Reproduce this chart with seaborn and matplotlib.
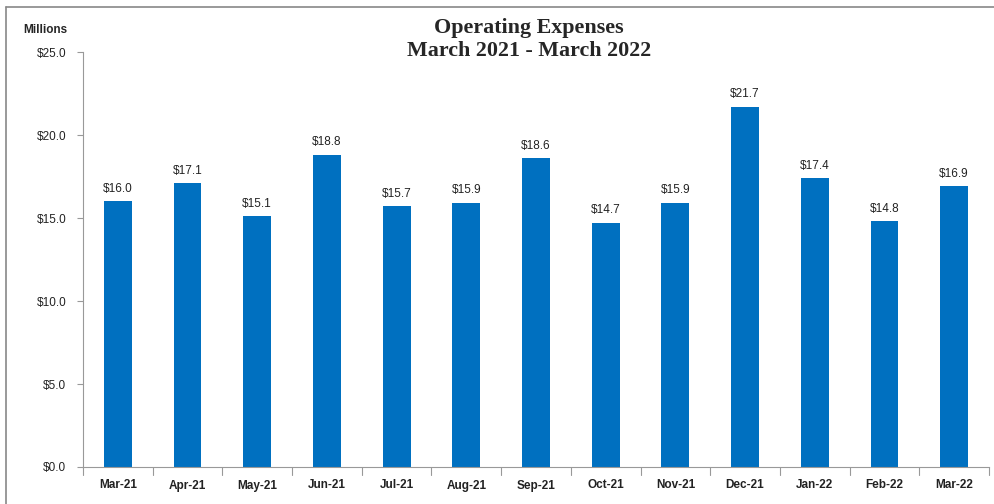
import matplotlib
matplotlib.use("Agg")
import matplotlib.pyplot as plt
import seaborn as sns
from matplotlib.lines import Line2D

months = ["Mar-21", "Apr-21", "May-21", "Jun-21", "Jul-21", "Aug-21", "Sep-21",
          "Oct-21", "Nov-21", "Dec-21", "Jan-22", "Feb-22", "Mar-22"]
expenses = [16.0, 17.1, 15.1, 18.8, 15.7, 15.9, 18.6, 14.7, 15.9, 21.7, 17.4, 14.8, 16.9]
yticks = [0, 5, 10, 15, 20, 25]

sns.set_style("white")
plt.rcParams['font.family'] = ['Liberation Sans', 'DejaVu Sans']

W, H = 995, 504
fig = plt.figure(figsize=(W/100, H/100), dpi=100)
ax = fig.add_axes([83/W, 1-467/H, (989-83)/W, (467-52)/H])

sns.barplot(x=months, y=expenses, color="#0070C0", saturation=1, width=0.4,
            linewidth=0, ax=ax)

ax.set_ylim(0, 25)
ax.set_xlim(-0.5, len(months)-0.5)
ax.set_yticks(yticks)
ax.set_yticklabels([f"${v:.1f}" for v in yticks], fontsize=8.5, color="#222222")
ax.set_xticks(range(len(months)))
ax.set_xticklabels(months, fontsize=8.5, fontweight="bold", color="#222222")
ax.tick_params(axis='x', length=0, pad=9)
ax.tick_params(axis='y', length=4, width=0.8, color="#999999", pad=8, left=True, direction='out')

# boundary tick marks on x-axis
for b in range(len(months)+1):
    ax.plot([b-0.5, b-0.5], [0, -0.5], color="#999999", lw=0.8, clip_on=False)

for s in ["top", "right"]:
    ax.spines[s].set_visible(False)
for s in ["left", "bottom"]:
    ax.spines[s].set_color("#999999")
    ax.spines[s].set_linewidth(0.8)

for i, v in enumerate(expenses):
    ax.text(i, v + 0.4, f"${v:.1f}", ha="center", va="bottom", fontsize=8.5, color="#222222")

ax.set_xlabel("")
ax.set_ylabel("")

fig.text(23/W, 1-30/H, "Millions", fontsize=8.5, fontweight="bold", ha="left", va="center")
fig.text(529/W, 1-39/H, "Operating Expenses\nMarch 2021 - March 2022", fontsize=15.8,
         fontweight="bold", family=["Liberation Serif", "DejaVu Serif"],
         ha="center", va="center", linespacing=1.2)

# figure border
fig.add_artist(Line2D([6/W, 1], [1-7/H, 1-7/H], color="#888888", lw=1.2, transform=fig.transFigure))
fig.add_artist(Line2D([6/W, 6/W], [0, 1-7/H], color="#888888", lw=1.2, transform=fig.transFigure))

fig.savefig("out.png", dpi=100)
